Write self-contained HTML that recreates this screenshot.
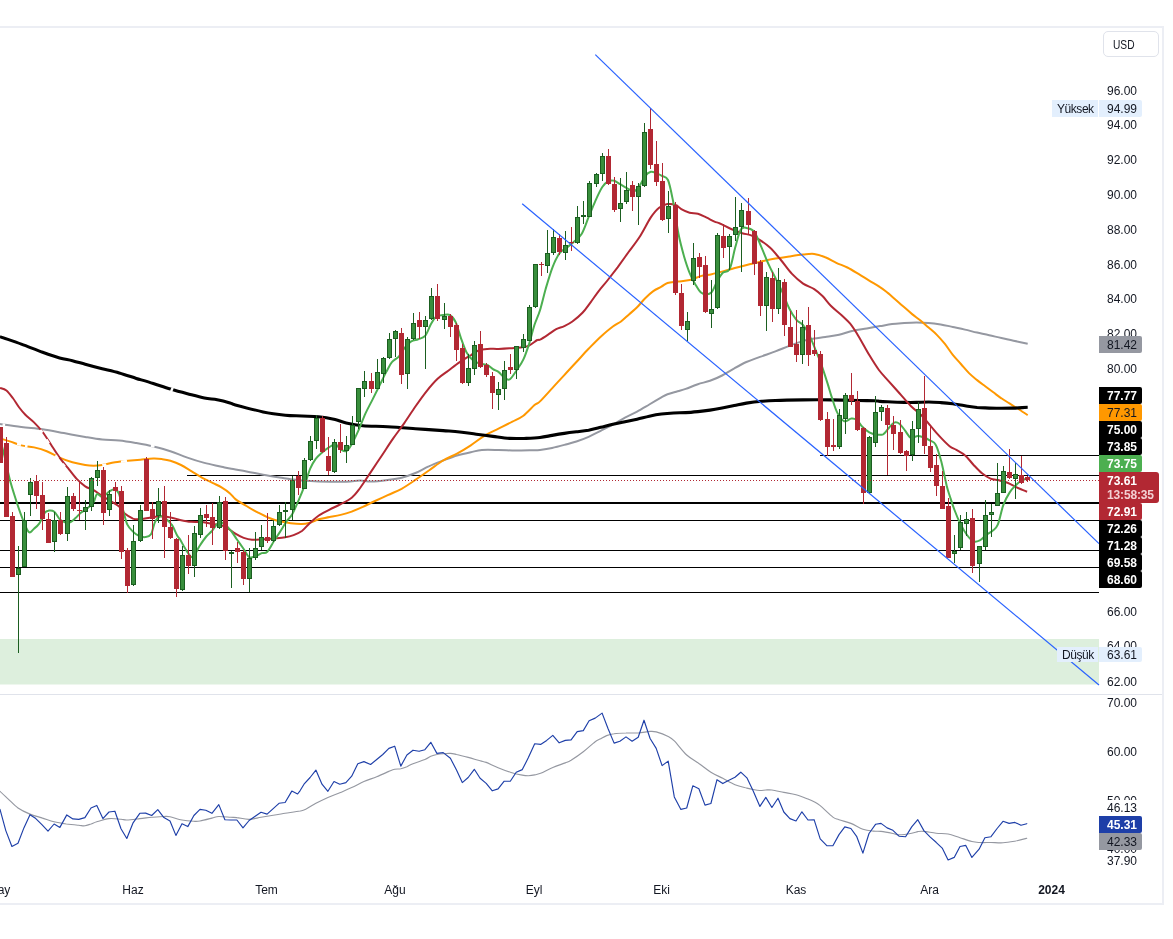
<!DOCTYPE html>
<html lang="tr"><head><meta charset="utf-8"><title>Chart</title>
<style>
html,body{margin:0;padding:0;background:#fff;}
body{width:1173px;height:939px;position:relative;overflow:hidden;font-family:"Liberation Sans",sans-serif;font-size:12px;color:#131722;}
svg{position:absolute;left:0;top:0;}
.t{position:absolute;height:16px;line-height:16px;white-space:nowrap;}
.t.w{background:#fff;}
.tc{width:60px;text-align:center;}
.lab{position:absolute;box-sizing:border-box;padding-left:8px;white-space:nowrap;border-radius:0 2px 2px 0;}
.lab span{position:relative;}
.lab.b{font-weight:bold;}
.lab.n{letter-spacing:-0.45px;border-radius:0;}
.lab.big{line-height:14px;border-radius:0 3px 3px 0;}
.usd{position:absolute;left:1103px;top:30.5px;width:56px;height:26.5px;box-sizing:border-box;border:1px solid #e0e3eb;border-radius:5px;line-height:26px;padding-left:8.5px;}
.usd span{display:inline-block;transform:scaleX(.85);transform-origin:left center;}
</style></head><body>
<svg width="1173" height="939" viewBox="0 0 1173 939">
<rect x="0" y="639" width="1099" height="45.5" fill="#ddefdd"/>
<rect x="820" y="455" width="279" height="1" fill="#000"/>
<rect x="187" y="475" width="912" height="1" fill="#000"/>
<rect x="0" y="502" width="1099" height="2" fill="#000"/>
<rect x="0" y="520" width="1099" height="1" fill="#000"/>
<rect x="0" y="550" width="1099" height="1" fill="#000"/>
<rect x="0" y="567" width="1099" height="1" fill="#000"/>
<rect x="0" y="592" width="1099" height="1" fill="#000"/>
<g fill="none" stroke-linecap="butt" stroke-linejoin="round">
<path d="M0.0 424.1C3.5 424.6 14.2 426.2 21.3 427.1C28.4 428.0 35.5 428.3 42.6 429.3C49.7 430.3 56.8 431.8 63.9 433.1C71.0 434.4 78.8 435.8 85.2 436.9C91.6 438.0 96.5 438.9 102.2 439.5C107.9 440.1 113.6 439.9 119.3 440.5C125.0 441.1 130.6 442.1 136.3 443.1C142.0 444.1 147.6 445.1 153.3 446.5C159.0 447.9 164.7 449.3 170.4 451.2C176.1 453.1 181.7 455.7 187.4 457.6C193.1 459.6 198.7 461.4 204.4 462.9C210.1 464.4 217.3 465.7 221.5 466.7C225.7 467.7 225.7 467.9 229.9 468.6C234.0 469.4 240.9 470.4 246.5 471.4C252.0 472.4 257.6 473.7 263.1 474.7C268.6 475.8 275.1 476.8 279.7 477.5C284.3 478.2 287.1 478.7 290.8 479.2C294.5 479.7 297.3 480.2 301.9 480.6C306.5 480.9 311.1 481.2 318.5 481.4C325.9 481.6 339.3 481.8 346.2 481.7C353.1 481.5 355.9 480.5 360.0 480.5C364.1 480.5 366.5 481.7 371.1 481.6C375.7 481.5 382.6 480.6 387.7 479.9C392.8 479.3 396.9 478.9 401.6 477.7C406.2 476.5 410.8 474.9 415.4 473.0C420.0 471.1 424.6 468.1 429.3 466.1C433.9 464.0 438.5 462.3 443.1 460.5C447.7 458.8 452.3 456.9 457.0 455.5C461.6 454.2 466.6 453.1 470.8 452.2C475.0 451.3 477.3 450.4 481.9 450.0C486.5 449.6 493.0 449.9 498.5 450.0C504.0 450.1 509.6 450.5 515.1 450.6C520.7 450.6 527.6 450.4 531.7 450.3C535.9 450.2 536.6 450.4 540.0 450.0C543.4 449.6 548.1 448.9 552.1 448.0C556.1 447.1 560.2 446.0 564.3 444.9C568.3 443.8 572.3 442.9 576.4 441.5C580.5 440.1 584.5 438.6 588.6 436.8C592.7 435.0 596.7 432.8 600.7 430.8C604.8 428.8 608.9 426.9 612.9 424.7C616.9 422.5 621.0 419.8 625.0 417.6C629.0 415.4 633.1 413.8 637.1 411.6C641.1 409.4 645.2 406.9 649.3 404.5C653.3 402.1 658.4 399.1 661.4 397.4C664.4 395.7 664.8 395.3 667.5 394.3C670.2 393.3 674.6 392.2 677.6 391.3C680.6 390.4 682.3 390.1 685.7 388.9C689.1 387.7 693.9 385.5 697.9 384.2C701.9 382.9 706.0 382.2 710.0 380.8C714.0 379.4 718.1 377.6 722.1 375.5C726.1 373.4 730.2 370.6 734.3 368.4C738.3 366.1 742.1 363.9 746.4 362.0C750.7 360.1 755.2 358.7 760.0 356.9C764.8 355.1 770.5 353.3 775.4 351.4C780.3 349.6 784.6 347.7 789.3 345.9C793.9 344.1 798.9 342.2 803.1 340.9C807.3 339.7 810.5 339.1 814.2 338.4C817.9 337.8 821.1 337.6 825.3 337.0C829.4 336.4 834.5 335.9 839.1 334.8C843.7 333.8 848.3 331.7 853.0 330.7C857.6 329.6 862.3 329.2 866.8 328.4C871.3 327.7 875.8 326.9 880.0 326.1C884.2 325.4 888.1 324.6 892.1 324.1C896.2 323.6 900.2 323.4 904.3 323.1C908.3 322.8 912.4 322.5 916.4 322.5C920.5 322.5 924.5 322.6 928.6 322.9C932.6 323.2 936.6 323.8 940.7 324.5C944.7 325.2 948.8 326.1 952.8 326.9C956.9 327.8 960.9 328.6 965.0 329.6C969.0 330.5 973.1 331.7 977.1 332.6C981.2 333.5 985.2 334.3 989.2 335.2C993.3 336.1 997.3 337.2 1001.4 338.1C1005.4 339.0 1009.1 339.7 1013.5 340.7C1017.9 341.6 1025.3 343.2 1027.7 343.7" stroke="#9598a1" stroke-width="2"/>
<path d="M0.0 438.4C1.8 438.9 7.0 440.4 10.6 441.6C14.1 442.8 17.4 444.4 21.3 445.4C25.2 446.4 29.9 446.4 34.1 447.4C38.4 448.4 42.5 449.5 46.8 451.2C51.0 452.9 55.3 455.8 59.6 457.6C63.9 459.5 68.1 461.1 72.4 462.3C76.7 463.5 81.7 464.4 85.2 465.0C88.8 465.6 90.9 465.7 93.7 465.7C96.5 465.7 98.7 465.6 102.2 465.0C105.8 464.4 110.7 463.0 115.0 462.3C119.3 461.6 123.5 461.2 127.8 460.8C132.1 460.4 136.2 460.1 140.5 459.7C144.8 459.3 149.8 458.7 153.3 458.6C156.9 458.5 159.0 458.7 161.8 459.1C164.7 459.5 167.2 459.8 170.4 460.8C173.6 461.8 177.4 463.2 181.0 465.0C184.6 466.8 188.1 469.3 191.7 471.4C195.2 473.5 198.8 475.9 202.3 477.8C205.9 479.8 209.8 481.5 213.0 483.1C216.2 484.7 218.7 485.7 221.5 487.4C224.3 489.1 227.7 491.4 230.0 493.4C232.3 495.4 232.7 497.0 235.4 499.1C238.1 501.2 242.8 503.8 246.5 506.0C250.2 508.3 253.9 510.5 257.6 512.4C261.3 514.3 264.9 516.2 268.6 517.7C272.3 519.2 276.0 520.4 279.7 521.3C283.4 522.2 287.1 522.8 290.8 523.2C294.5 523.7 298.7 524.1 301.9 524.0C305.1 524.0 307.4 523.4 310.2 522.7C313.0 521.9 315.3 520.3 318.5 519.3C321.7 518.4 325.9 517.9 329.6 517.1C333.3 516.4 337.0 515.8 340.7 514.9C344.4 514.0 348.1 512.9 351.7 511.6C355.4 510.2 359.1 508.5 362.8 506.9C366.5 505.2 369.7 503.5 373.9 501.5C378.0 499.6 383.1 497.3 387.7 495.2C392.3 493.0 396.9 491.3 401.6 488.8C406.2 486.2 410.8 483.0 415.4 479.9C420.0 476.8 424.6 473.5 429.3 470.2C433.9 467.0 438.5 463.3 443.1 460.5C447.7 457.8 452.3 456.1 457.0 453.6C461.6 451.1 466.2 448.3 470.8 445.3C475.4 442.3 480.0 438.4 484.7 435.6C489.3 432.8 493.9 431.0 498.5 428.7C503.1 426.4 508.2 423.9 512.4 421.7C516.5 419.6 519.7 418.4 523.4 415.7C527.1 412.9 531.8 407.5 534.5 405.1C537.3 402.7 537.1 404.2 540.0 401.4C542.9 398.6 548.1 392.7 552.1 388.3C556.1 383.9 560.2 379.5 564.3 375.1C568.3 370.7 572.3 366.4 576.4 362.0C580.5 357.6 584.5 353.0 588.6 348.8C592.7 344.6 596.7 340.4 600.7 336.7C604.8 333.0 609.5 329.0 612.9 326.5C616.3 324.0 618.3 323.5 621.0 321.5C623.7 319.5 626.3 316.8 629.0 314.4C631.7 312.0 634.4 310.0 637.1 307.3C639.8 304.6 642.5 300.9 645.2 298.2C647.9 295.5 650.6 293.0 653.3 291.1C656.0 289.2 659.0 288.1 661.4 286.7C663.8 285.3 664.8 283.9 667.5 283.0C670.2 282.1 673.9 282.1 677.6 281.6C681.3 281.1 686.0 280.9 689.8 280.0C693.6 279.1 697.0 277.1 700.7 276.1C704.3 275.2 708.1 275.0 711.7 274.2C715.4 273.4 719.1 272.4 722.8 271.4C726.5 270.5 729.7 269.5 733.9 268.3C738.0 267.2 743.1 265.9 747.7 264.7C752.3 263.6 756.9 262.4 761.6 261.4C766.2 260.4 770.8 259.5 775.4 258.6C780.0 257.8 784.6 257.1 789.3 256.4C793.9 255.7 798.9 254.9 803.1 254.5C807.3 254.1 810.5 253.5 814.2 253.9C817.9 254.4 821.6 255.8 825.3 257.3C829.0 258.7 832.7 261.1 836.3 262.8C840.0 264.5 843.7 265.7 847.4 267.5C851.1 269.4 854.8 271.7 858.5 273.9C862.2 276.1 866.0 278.6 869.6 280.8C873.2 283.0 876.9 285.0 880.0 287.1C883.1 289.1 885.4 291.0 888.1 293.1C890.8 295.3 893.5 297.9 896.2 300.2C898.9 302.6 901.6 305.0 904.3 307.3C907.0 309.7 909.7 312.2 912.4 314.4C915.1 316.6 917.8 318.3 920.5 320.5C923.2 322.7 925.9 325.2 928.6 327.5C931.3 329.9 933.9 331.9 936.6 334.6C939.3 337.3 942.0 340.4 944.7 343.7C947.4 347.1 950.1 351.5 952.8 354.9C955.5 358.2 958.2 360.9 960.9 364.0C963.6 367.0 966.3 370.4 969.0 373.1C971.7 375.8 974.4 377.9 977.1 380.1C979.8 382.3 982.5 384.2 985.2 386.2C987.9 388.2 990.6 390.3 993.3 392.3C996.0 394.3 998.7 396.5 1001.4 398.3C1004.1 400.2 1006.8 401.7 1009.5 403.4C1012.2 405.1 1014.5 406.5 1017.6 408.5C1020.6 410.4 1026.0 414.0 1027.7 415.1" stroke="#ff9800" stroke-width="2"/>
<path d="M0.0 336.6C3.5 337.9 14.2 341.5 21.3 344.1C28.4 346.7 36.2 349.9 42.6 352.2C49.0 354.5 54.6 356.5 59.6 357.9C64.6 359.3 68.1 359.6 72.4 360.7C76.7 361.8 80.2 362.9 85.2 364.3C90.2 365.7 96.5 367.4 102.2 368.8C107.9 370.2 113.5 371.4 119.2 373.0C124.9 374.6 130.6 376.6 136.3 378.4C142.0 380.1 147.6 381.7 153.3 383.5C159.0 385.3 164.7 387.3 170.4 389.0C176.1 390.7 181.7 392.2 187.4 393.7C193.1 395.2 199.4 397.0 204.4 398.0C209.4 399.0 212.9 398.9 217.2 399.7C221.5 400.5 227.0 402.0 230.0 402.9C233.0 403.8 229.9 403.4 235.4 404.9C240.9 406.4 254.8 410.1 263.1 411.9C271.4 413.6 278.8 414.5 285.3 415.2C291.7 415.9 296.3 415.7 301.9 416.0C307.4 416.3 313.0 416.2 318.5 416.8C324.0 417.4 330.5 418.6 335.1 419.6C339.7 420.6 341.6 421.9 346.2 422.9C350.8 424.0 355.9 425.1 362.8 425.7C369.7 426.3 378.9 426.2 387.7 426.7C396.5 427.2 406.2 428.0 415.4 428.7C424.6 429.3 435.7 430.1 443.1 430.6C450.5 431.2 454.2 431.4 459.7 432.0C465.3 432.6 470.8 433.5 476.3 434.2C481.9 434.9 487.4 435.7 493.0 436.4C498.5 437.1 504.0 438.0 509.6 438.4C515.1 438.7 521.1 438.5 526.2 438.4C531.3 438.2 535.7 438.0 540.0 437.5C544.3 437.0 548.1 436.1 552.1 435.4C556.1 434.7 560.2 434.0 564.3 433.4C568.3 432.8 572.3 432.3 576.4 431.8C580.5 431.3 584.5 430.9 588.6 430.2C592.7 429.4 596.7 428.3 600.7 427.3C604.8 426.3 608.9 425.2 612.9 424.3C616.9 423.4 621.0 422.6 625.0 421.7C629.0 420.8 633.1 420.1 637.1 419.2C641.1 418.3 645.2 417.1 649.3 416.2C653.3 415.3 657.3 414.5 661.4 414.0C665.5 413.5 669.5 413.2 673.6 413.0C677.7 412.8 681.7 412.8 685.7 412.6C689.8 412.4 693.9 412.0 697.9 411.6C701.9 411.2 706.0 410.7 710.0 410.1C714.0 409.5 718.1 408.7 722.1 407.9C726.1 407.1 730.2 406.3 734.3 405.5C738.3 404.7 741.9 403.8 746.4 403.1C750.9 402.4 756.7 401.7 761.6 401.3C766.4 400.9 768.5 400.7 775.4 400.5C782.3 400.2 793.9 400.0 803.1 399.9C812.3 399.8 821.6 399.8 830.8 399.9C840.0 400.0 851.1 400.3 858.5 400.5C865.9 400.6 871.5 400.6 875.1 400.7C878.7 400.9 877.2 401.2 880.0 401.4C882.8 401.6 888.1 401.8 892.1 402.0C896.2 402.2 900.2 402.3 904.3 402.4C908.3 402.5 912.4 402.5 916.4 402.4C920.5 402.3 924.5 402.0 928.6 402.0C932.6 402.0 936.6 402.3 940.7 402.6C944.7 402.9 948.8 403.3 952.8 403.8C956.9 404.4 960.9 405.2 965.0 405.8C969.0 406.4 973.1 407.1 977.1 407.5C981.2 407.8 985.2 407.9 989.2 408.1C993.3 408.2 997.3 408.3 1001.4 408.3C1005.4 408.3 1009.1 408.2 1013.5 408.1C1017.9 407.9 1025.3 407.4 1027.7 407.3" stroke="#000" stroke-width="3.1"/>
<path d="M0.0 388.0C1.1 388.4 4.3 388.8 6.4 390.5C8.5 392.2 10.7 395.2 12.8 398.0C14.9 400.8 17.1 404.7 19.2 407.5C21.3 410.3 23.1 412.5 25.6 415.0C28.1 417.5 31.2 419.6 34.0 422.4C36.8 425.2 39.8 428.3 42.6 432.0C45.5 435.7 48.3 440.5 51.1 444.8C53.9 449.1 56.8 453.7 59.6 457.6C62.4 461.5 65.2 464.6 68.1 468.2C70.9 471.8 73.8 475.9 76.7 478.9C79.6 481.9 82.4 484.4 85.2 486.3C88.0 488.2 90.9 488.6 93.7 490.2C96.5 491.8 99.3 494.2 102.2 496.0C105.1 497.8 108.0 499.3 110.8 501.1C113.6 502.9 116.8 504.6 119.1 506.6C121.4 508.7 122.3 511.6 124.7 513.6C127.0 515.6 130.7 517.6 133.0 518.6C135.3 519.5 135.7 519.3 138.5 519.1C141.3 519.0 145.9 518.2 149.6 517.7C153.3 517.3 157.0 516.3 160.7 516.3C164.4 516.3 168.5 517.1 171.7 517.7C175.0 518.3 176.8 519.2 180.0 519.9C183.2 520.6 187.4 521.5 191.1 521.8C194.8 522.2 198.5 521.7 202.2 522.1C205.9 522.5 209.5 523.4 213.2 524.0C216.9 524.7 220.6 524.6 224.3 526.3C228.0 527.9 232.2 531.8 235.4 533.7C238.6 535.7 240.9 536.9 243.7 537.9C246.5 538.9 248.8 539.6 252.0 539.8C255.3 540.1 259.4 539.5 263.1 539.3C266.8 539.0 270.5 538.8 274.2 538.4C277.9 538.1 282.0 537.9 285.3 537.3C288.5 536.8 290.8 536.2 293.6 535.1C296.3 534.1 299.1 533.0 301.9 531.0C304.7 528.9 307.4 525.2 310.2 522.7C313.0 520.1 315.3 517.9 318.5 515.7C321.7 513.6 325.9 511.6 329.6 509.6C333.3 507.7 337.0 506.1 340.7 504.1C344.4 502.1 348.5 500.4 351.7 497.7C355.0 495.1 356.8 492.4 360.1 488.0C363.3 483.7 367.4 477.1 371.1 471.6C374.8 466.1 378.5 460.5 382.2 455.0C385.9 449.4 389.5 443.7 393.2 438.4C396.9 433.1 400.6 428.4 404.3 423.1C408.0 417.8 411.7 411.8 415.4 406.5C419.1 401.2 422.8 395.9 426.5 391.3C430.2 386.7 433.9 382.3 437.6 378.8C441.3 375.3 444.9 373.3 448.6 370.5C452.3 367.7 456.0 364.7 459.7 362.2C463.4 359.6 467.6 357.2 470.8 355.3C474.0 353.3 476.3 351.3 479.1 350.3C481.9 349.2 484.2 349.1 487.4 348.9C490.7 348.7 494.8 349.0 498.5 348.9C502.2 348.8 505.9 348.6 509.6 348.3C513.3 348.1 517.4 348.0 520.7 347.5C523.9 347.0 526.2 346.8 529.0 345.6C531.7 344.3 535.4 341.0 537.3 340.0C539.1 339.0 538.2 340.6 540.0 339.7C541.8 338.8 545.4 336.4 548.1 334.6C550.8 332.9 553.5 330.6 556.2 329.2C558.9 327.8 561.6 327.4 564.3 326.1C567.0 324.8 569.4 323.7 572.4 321.5C575.4 319.3 579.5 316.0 582.5 312.8C585.5 309.6 587.9 305.9 590.6 302.3C593.3 298.7 595.8 294.8 598.7 291.1C601.6 287.4 604.7 284.0 607.8 280.0C610.9 276.0 614.1 271.9 617.6 267.3C621.0 262.6 624.9 257.1 628.6 252.0C632.3 247.0 636.0 242.6 639.7 236.8C643.4 231.0 647.6 222.3 650.8 217.4C654.0 212.6 656.3 209.9 659.1 207.7C661.9 205.5 664.7 204.6 667.4 204.1C670.2 203.7 673.4 204.1 675.7 205.0C678.0 205.8 679.0 207.8 681.3 209.1C683.6 210.4 686.8 211.9 689.6 212.7C692.4 213.5 695.1 213.0 697.9 213.8C700.7 214.6 703.4 216.1 706.2 217.4C709.0 218.7 712.2 220.6 714.5 221.6C716.8 222.6 717.2 222.2 720.0 223.5C722.8 224.7 727.4 227.4 731.1 229.0C734.8 230.6 738.9 232.1 742.2 233.2C745.4 234.2 747.7 234.1 750.5 235.1C753.2 236.1 755.5 237.2 758.8 239.3C762.0 241.3 766.2 244.1 769.9 247.6C773.6 251.0 777.2 255.6 780.9 260.0C784.6 264.4 788.3 270.0 792.0 273.9C795.7 277.8 799.4 281.0 803.1 283.6C806.8 286.1 811.0 287.0 814.2 289.1C817.4 291.2 819.7 293.3 822.5 296.0C825.3 298.8 827.6 302.5 830.8 305.7C834.0 309.0 838.7 312.4 841.9 315.4C845.1 318.4 847.4 320.3 850.2 323.7C853.0 327.2 855.3 330.9 858.5 336.2C861.7 341.5 866.2 350.0 869.6 355.6C873.0 361.2 875.8 365.8 878.9 370.0C882.1 374.2 885.2 377.2 888.6 381.1C892.1 385.0 896.0 389.4 899.7 393.5C903.4 397.7 907.1 402.3 910.8 406.0C914.5 409.7 918.7 412.5 921.9 415.7C925.1 418.9 927.4 422.2 930.2 425.4C933.0 428.6 935.3 431.6 938.5 435.1C941.7 438.6 946.6 443.7 949.6 446.2C952.6 448.6 953.8 448.3 956.4 449.8C958.9 451.3 962.1 452.7 964.9 455.2C967.8 457.6 970.6 461.7 973.4 464.7C976.3 467.8 979.1 471.0 982.0 473.3C984.8 475.6 987.6 477.4 990.5 478.6C993.3 479.8 996.2 479.6 999.0 480.3C1001.8 481.0 1004.7 481.7 1007.5 482.8C1010.4 484.0 1013.6 485.9 1016.0 487.1C1018.5 488.3 1020.6 489.1 1022.4 489.9C1024.3 490.7 1026.3 491.5 1027.1 491.8" stroke="#b22833" stroke-width="2"/>
<path d="M1.0 442.5C1.5 444.6 2.9 449.3 4.3 455.3C5.7 461.3 7.7 471.2 9.6 478.7C11.5 486.1 13.9 493.4 16.0 500.0C18.1 506.6 20.2 512.8 22.3 518.1C24.4 523.4 26.8 530.1 28.7 531.9C30.6 533.7 32.2 530.1 34.0 528.7C35.8 527.3 37.6 526.0 39.4 523.4C41.2 520.8 43.1 514.9 44.7 512.8C46.3 510.7 47.3 510.8 48.9 510.6C50.5 510.4 52.5 510.3 54.3 511.7C56.1 513.1 57.8 517.3 59.6 519.1C61.4 520.9 63.1 521.8 64.9 522.3C66.7 522.8 68.4 523.0 70.2 522.3C72.0 521.6 73.7 519.7 75.5 518.1C77.3 516.5 79.0 514.4 80.9 512.8C82.9 511.2 85.1 510.3 87.2 508.5C89.3 506.7 92.0 504.5 93.6 502.1C95.2 499.7 95.5 495.0 97.0 494.2C98.4 493.3 100.4 497.4 102.5 497.0C104.6 496.5 107.3 492.7 109.4 491.4C111.5 490.1 113.3 488.7 115.0 489.2C116.6 489.7 117.7 490.6 119.1 494.2C120.5 497.8 121.9 505.7 123.3 510.8C124.7 515.9 125.8 521.2 127.4 524.7C129.0 528.1 131.1 529.7 133.0 531.6C134.8 533.4 136.4 534.8 138.5 535.7C140.6 536.7 143.4 537.3 145.4 537.1C147.5 536.9 149.4 536.9 151.0 534.3C152.6 531.8 153.5 524.9 155.1 521.9C156.7 518.9 158.8 516.8 160.7 516.3C162.5 515.9 164.4 517.7 166.2 519.1C168.1 520.5 169.9 521.9 171.7 524.7C173.6 527.4 175.9 533.3 177.3 535.7C178.7 538.2 178.6 537.1 180.0 539.3C181.4 541.5 183.5 546.0 185.5 549.0C187.6 552.0 190.2 557.7 192.5 557.3C194.8 556.8 197.1 549.7 199.4 546.2C201.7 542.7 204.2 539.0 206.3 536.5C208.4 534.0 209.8 533.3 211.9 531.0C213.9 528.7 216.7 523.8 218.8 522.7C220.9 521.5 222.2 522.7 224.3 524.0C226.4 525.4 229.2 528.4 231.2 531.0C233.3 533.5 234.7 536.3 236.8 539.3C238.9 542.3 241.6 546.0 243.7 549.0C245.8 552.0 247.2 556.1 249.3 557.3C251.3 558.4 254.1 556.6 256.2 555.9C258.3 555.2 259.9 553.8 261.7 553.1C263.6 552.4 265.2 553.8 267.3 551.7C269.3 549.7 272.1 543.9 274.2 540.7C276.3 537.4 277.6 535.6 279.7 532.4C281.8 529.1 284.6 524.3 286.6 521.3C288.7 518.3 290.1 518.0 292.2 514.3C294.3 510.7 297.0 504.0 299.1 499.1C301.2 494.3 302.8 490.3 304.7 485.3C306.5 480.2 308.3 473.0 310.2 468.6C312.0 464.3 313.7 461.7 315.7 458.9C317.8 456.2 320.6 453.9 322.7 452.0C324.7 450.2 326.1 449.2 328.2 447.9C330.3 446.6 333.0 444.0 335.1 444.3C337.2 444.5 338.8 448.1 340.7 449.3C342.5 450.4 344.4 452.0 346.2 451.2C348.1 450.4 349.7 447.8 351.7 444.3C353.8 440.7 356.4 435.0 358.7 429.9C361.0 424.7 363.2 418.5 365.5 413.4C367.8 408.4 370.2 404.2 372.5 399.6C374.8 395.0 377.1 390.4 379.4 385.7C381.7 381.1 384.2 375.8 386.3 371.9C388.4 368.0 389.8 364.7 391.9 362.2C393.9 359.6 396.7 359.0 398.8 356.6C400.9 354.3 402.2 350.9 404.3 348.3C406.4 345.8 408.9 342.9 411.2 341.4C413.6 339.9 415.9 340.1 418.2 339.2C420.5 338.3 423.0 338.3 425.1 335.9C427.2 333.5 428.8 328.0 430.6 324.8C432.5 321.6 434.1 318.1 436.2 316.5C438.3 314.9 440.8 315.3 443.1 315.1C445.4 314.9 448.0 313.9 450.0 315.1C452.1 316.3 453.7 318.1 455.6 322.0C457.4 325.9 459.3 333.6 461.1 338.6C463.0 343.7 464.6 348.8 466.6 352.5C468.7 356.2 471.3 359.0 473.6 360.8C475.9 362.7 478.2 362.9 480.5 363.6C482.8 364.3 485.3 364.0 487.4 365.0C489.5 365.9 491.1 368.0 493.0 369.1C494.8 370.3 496.7 370.5 498.5 371.9C500.4 373.3 502.2 376.2 504.0 377.4C505.9 378.7 507.5 380.5 509.6 379.4C511.7 378.2 514.2 373.8 516.5 370.5C518.8 367.2 521.4 363.8 523.4 359.4C525.5 355.0 527.1 350.0 529.0 344.2C530.8 338.4 532.7 330.5 534.5 324.8C536.4 319.1 538.2 316.1 540.0 310.2C541.8 304.3 543.5 296.6 545.5 289.4C547.6 282.3 550.2 273.3 552.5 267.3C554.8 261.3 557.1 256.7 559.4 253.4C561.7 250.2 564.0 249.7 566.3 247.9C568.6 246.0 570.7 244.7 573.2 242.4C575.8 240.0 579.0 238.2 581.6 234.0C584.1 229.9 586.2 223.0 588.5 217.4C590.8 211.9 593.1 205.9 595.4 200.8C597.7 195.7 600.2 190.2 602.3 187.0C604.4 183.7 606.0 182.5 607.9 181.4C609.7 180.4 611.3 180.1 613.4 180.6C615.5 181.0 618.0 182.9 620.3 184.2C622.6 185.5 624.9 187.2 627.3 188.3C629.6 189.5 632.1 191.6 634.2 191.1C636.3 190.6 637.9 188.1 639.7 185.6C641.6 183.0 643.4 178.2 645.3 175.9C647.1 173.6 649.0 172.2 650.8 171.7C652.7 171.3 654.5 172.4 656.3 173.1C658.2 173.8 659.9 174.7 661.9 175.9C663.8 177.0 666.1 175.9 668.0 180.0C669.8 184.2 671.2 191.8 673.0 200.8C674.7 209.8 676.7 224.8 678.5 234.0C680.4 243.3 682.2 249.7 684.0 256.2C685.9 262.7 687.7 268.2 689.6 272.8C691.4 277.4 693.3 280.7 695.1 283.9C697.0 287.1 698.8 290.5 700.7 292.2C702.5 294.0 704.4 294.4 706.2 294.4C708.1 294.4 709.9 294.4 711.7 292.2C713.6 290.0 715.4 284.4 717.3 281.1C719.1 277.9 720.7 274.9 722.8 272.8C724.9 270.7 727.7 272.9 729.8 268.7C731.8 264.5 733.4 254.1 735.2 247.6C737.1 241.0 738.7 232.8 740.8 229.6C742.9 226.3 745.4 227.7 747.7 228.2C750.0 228.6 752.3 229.1 754.6 232.3C756.9 235.6 759.2 242.3 761.6 247.6C763.9 252.9 766.2 259.1 768.5 264.2C770.8 269.3 773.1 273.4 775.4 278.0C777.7 282.7 780.0 286.8 782.3 291.9C784.6 297.0 786.9 303.9 789.3 308.5C791.6 313.1 793.9 316.8 796.2 319.6C798.5 322.4 801.0 322.8 803.1 325.1C805.2 327.4 806.6 329.3 808.6 333.4C810.7 337.6 813.5 345.0 815.6 350.1C817.6 355.1 819.1 358.3 821.1 363.9C823.1 369.5 825.9 378.2 827.7 383.9C829.5 389.5 830.2 392.9 831.9 397.7C833.5 402.5 835.3 409.0 837.4 412.9C839.5 416.9 842.0 420.3 844.3 421.2C846.6 422.2 849.2 418.7 851.2 418.5C853.3 418.2 854.9 418.5 856.8 419.9C858.6 421.2 860.2 424.7 862.3 426.8C864.4 428.9 866.9 431.0 869.3 432.3C871.6 433.6 873.9 434.2 876.2 434.5C878.5 434.9 881.0 435.3 883.1 434.3C885.2 433.2 886.8 430.1 888.6 428.2C890.5 426.2 892.3 423.3 894.2 422.6C896.0 421.9 897.9 422.6 899.7 424.0C901.6 425.4 903.4 428.6 905.3 430.9C907.1 433.3 908.7 437.0 910.8 437.9C912.9 438.7 915.7 436.0 917.7 435.9C919.8 435.8 921.2 436.5 923.3 437.3C925.3 438.1 928.1 439.4 930.2 440.6C932.3 441.9 933.9 441.3 935.7 444.8C937.6 448.3 939.4 454.5 941.3 461.4C943.1 468.3 945.4 480.5 946.8 486.3C948.3 492.2 948.8 492.8 950.0 496.7C951.2 500.5 952.5 504.9 954.3 509.5C956.0 514.1 958.5 520.1 960.7 524.4C962.8 528.6 964.9 532.2 967.0 535.0C969.2 537.9 971.3 540.5 973.4 541.4C975.6 542.3 977.7 541.4 979.8 540.4C982.0 539.3 984.1 536.6 986.2 535.0C988.3 533.4 990.7 532.6 992.6 530.8C994.6 529.0 996.2 528.6 997.9 524.4C999.7 520.1 1001.3 510.5 1003.3 505.2C1005.2 499.9 1007.5 495.8 1009.7 492.4C1011.8 489.1 1014.1 486.9 1016.0 485.0C1018.0 483.0 1019.5 481.8 1021.4 480.7C1023.2 479.7 1026.2 478.9 1027.1 478.6" stroke="#4caf50" stroke-width="2"/>
</g>
<g stroke="#fff" stroke-width="2.6" fill="none">
<line x1="2.6" y1="424.6" x2="5.1" y2="425"/>
<line x1="150.9" y1="445.8" x2="154.5" y2="446.6"/>
<line x1="17" y1="443.9" x2="21" y2="444.8"/>
<line x1="25" y1="446" x2="27.5" y2="446.4"/>
<line x1="102.3" y1="465.3" x2="106.3" y2="464.6"/>
<line x1="121" y1="461.8" x2="127" y2="461"/>
<line x1="40.2" y1="430" x2="42.4" y2="432.6"/>
<line x1="46.3" y1="439.5" x2="48.8" y2="443.5"/>
<line x1="55.6" y1="455.3" x2="58" y2="459"/>
<line x1="62.4" y1="464" x2="64.8" y2="466.6"/>
<line x1="170.8" y1="389" x2="173" y2="390" stroke-width="3.6"/>
</g>
<g fill="#b22833"><rect x="0" y="427" width="1" height="36"/><rect x="6" y="437" width="1" height="80"/><rect x="12" y="512" width="1" height="65"/><rect x="36" y="475" width="1" height="34"/><rect x="42" y="482" width="1" height="48"/><rect x="48" y="513" width="1" height="30"/><rect x="60" y="512" width="1" height="23"/><rect x="73" y="493" width="1" height="18"/><rect x="79" y="482" width="1" height="38"/><rect x="103" y="467" width="1" height="58"/><rect x="115" y="482" width="1" height="23"/><rect x="121" y="486" width="1" height="73"/><rect x="127" y="548" width="1" height="45"/><rect x="146" y="457" width="1" height="54"/><rect x="152" y="502" width="1" height="37"/><rect x="164" y="486" width="1" height="72"/><rect x="170" y="512" width="1" height="27"/><rect x="176" y="538" width="1" height="59"/><rect x="188" y="535" width="1" height="39"/><rect x="206" y="505" width="1" height="22"/><rect x="212" y="503" width="1" height="42"/><rect x="225" y="497" width="1" height="63"/><rect x="237" y="542" width="1" height="21"/><rect x="243" y="550" width="1" height="35"/><rect x="267" y="513" width="1" height="30"/><rect x="298" y="471" width="1" height="24"/><rect x="322" y="416" width="1" height="37"/><rect x="328" y="437" width="1" height="38"/><rect x="340" y="424" width="1" height="29"/><rect x="371" y="373" width="1" height="20"/><rect x="401" y="328" width="1" height="56"/><rect x="419" y="312" width="1" height="27"/><rect x="437" y="284" width="1" height="37"/><rect x="450" y="314" width="1" height="23"/><rect x="456" y="323" width="1" height="38"/><rect x="462" y="344" width="1" height="40"/><rect x="480" y="331" width="1" height="37"/><rect x="486" y="363" width="1" height="14"/><rect x="492" y="372" width="1" height="37"/><rect x="510" y="354" width="1" height="20"/><rect x="541" y="262" width="1" height="14"/><rect x="559" y="234" width="1" height="21"/><rect x="571" y="227" width="1" height="24"/><rect x="608" y="149" width="1" height="36"/><rect x="614" y="177" width="1" height="35"/><rect x="632" y="181" width="1" height="30"/><rect x="650" y="108" width="1" height="61"/><rect x="656" y="141" width="1" height="45"/><rect x="662" y="163" width="1" height="58"/><rect x="675" y="202" width="1" height="93"/><rect x="681" y="284" width="1" height="46"/><rect x="699" y="253" width="1" height="25"/><rect x="705" y="256" width="1" height="57"/><rect x="723" y="224" width="1" height="34"/><rect x="748" y="198" width="1" height="37"/><rect x="754" y="230" width="1" height="45"/><rect x="760" y="260" width="1" height="56"/><rect x="772" y="272" width="1" height="50"/><rect x="784" y="279" width="1" height="57"/><rect x="790" y="311" width="1" height="36"/><rect x="796" y="310" width="1" height="52"/><rect x="808" y="307" width="1" height="59"/><rect x="814" y="330" width="1" height="26"/><rect x="820" y="351" width="1" height="70"/><rect x="827" y="412" width="1" height="44"/><rect x="833" y="419" width="1" height="32"/><rect x="851" y="373" width="1" height="32"/><rect x="857" y="391" width="1" height="40"/><rect x="863" y="427" width="1" height="77"/><rect x="887" y="405" width="1" height="70"/><rect x="893" y="416" width="1" height="34"/><rect x="900" y="420" width="1" height="34"/><rect x="906" y="450" width="1" height="21"/><rect x="924" y="376" width="1" height="78"/><rect x="930" y="425" width="1" height="47"/><rect x="936" y="454" width="1" height="42"/><rect x="942" y="471" width="1" height="38"/><rect x="948" y="498" width="1" height="60"/><rect x="972" y="509" width="1" height="64"/><rect x="1009" y="449" width="1" height="30"/><rect x="1021" y="456" width="1" height="28"/><rect x="1027" y="476" width="1" height="6"/><rect x="-2" y="427" width="5" height="36"/><rect x="4" y="443" width="5" height="74"/><rect x="10" y="516" width="5" height="61"/><rect x="34" y="481" width="5" height="15"/><rect x="40" y="495" width="5" height="24"/><rect x="46" y="519" width="5" height="24"/><rect x="58" y="520" width="5" height="14"/><rect x="71" y="496" width="5" height="13"/><rect x="77" y="510" width="5" height="1"/><rect x="101" y="470" width="5" height="43"/><rect x="113" y="487" width="5" height="4"/><rect x="119" y="491" width="5" height="61"/><rect x="125" y="550" width="5" height="36"/><rect x="144" y="459" width="5" height="52"/><rect x="150" y="509" width="5" height="10"/><rect x="162" y="501" width="5" height="26"/><rect x="168" y="527" width="5" height="11"/><rect x="174" y="539" width="5" height="50"/><rect x="186" y="555" width="5" height="11"/><rect x="204" y="514" width="5" height="4"/><rect x="210" y="517" width="5" height="11"/><rect x="223" y="501" width="5" height="50"/><rect x="235" y="548" width="5" height="4"/><rect x="241" y="552" width="5" height="27"/><rect x="265" y="537" width="5" height="4"/><rect x="296" y="476" width="5" height="12"/><rect x="320" y="418" width="5" height="34"/><rect x="326" y="456" width="5" height="15"/><rect x="338" y="442" width="5" height="8"/><rect x="369" y="381" width="5" height="8"/><rect x="399" y="333" width="5" height="42"/><rect x="417" y="320" width="5" height="7"/><rect x="435" y="296" width="5" height="23"/><rect x="448" y="316" width="5" height="11"/><rect x="454" y="325" width="5" height="25"/><rect x="460" y="348" width="5" height="35"/><rect x="478" y="344" width="5" height="23"/><rect x="484" y="365" width="5" height="10"/><rect x="490" y="376" width="5" height="17"/><rect x="508" y="367" width="5" height="3"/><rect x="539" y="264" width="5" height="1"/><rect x="557" y="238" width="5" height="14"/><rect x="569" y="242" width="5" height="1"/><rect x="606" y="156" width="5" height="28"/><rect x="612" y="184" width="5" height="26"/><rect x="630" y="185" width="5" height="12"/><rect x="648" y="129" width="5" height="36"/><rect x="654" y="164" width="5" height="18"/><rect x="660" y="181" width="5" height="39"/><rect x="673" y="205" width="5" height="88"/><rect x="679" y="293" width="5" height="33"/><rect x="697" y="257" width="5" height="10"/><rect x="703" y="265" width="5" height="47"/><rect x="721" y="236" width="5" height="12"/><rect x="746" y="211" width="5" height="14"/><rect x="752" y="231" width="5" height="33"/><rect x="758" y="262" width="5" height="44"/><rect x="770" y="278" width="5" height="31"/><rect x="782" y="282" width="5" height="43"/><rect x="788" y="327" width="5" height="20"/><rect x="794" y="344" width="5" height="11"/><rect x="806" y="325" width="5" height="30"/><rect x="812" y="350" width="5" height="4"/><rect x="818" y="354" width="5" height="66"/><rect x="825" y="419" width="5" height="28"/><rect x="831" y="445" width="5" height="2"/><rect x="849" y="395" width="5" height="6"/><rect x="855" y="401" width="5" height="29"/><rect x="861" y="428" width="5" height="65"/><rect x="885" y="408" width="5" height="17"/><rect x="891" y="425" width="5" height="9"/><rect x="898" y="432" width="5" height="21"/><rect x="904" y="451" width="5" height="5"/><rect x="922" y="408" width="5" height="38"/><rect x="928" y="446" width="5" height="22"/><rect x="934" y="465" width="5" height="21"/><rect x="940" y="486" width="5" height="23"/><rect x="946" y="506" width="5" height="52"/><rect x="970" y="518" width="5" height="48"/><rect x="1007" y="472" width="5" height="6"/><rect x="1019" y="475" width="5" height="8"/><rect x="1025" y="477" width="5" height="3"/></g>
<g fill="#1b5e20"><rect x="18" y="546" width="1" height="107"/><rect x="24" y="512" width="1" height="55"/><rect x="30" y="478" width="1" height="38"/><rect x="54" y="512" width="1" height="40"/><rect x="67" y="487" width="1" height="54"/><rect x="85" y="500" width="1" height="30"/><rect x="91" y="477" width="1" height="34"/><rect x="97" y="461" width="1" height="25"/><rect x="109" y="490" width="1" height="26"/><rect x="133" y="525" width="1" height="61"/><rect x="140" y="505" width="1" height="37"/><rect x="158" y="488" width="1" height="35"/><rect x="182" y="546" width="1" height="45"/><rect x="194" y="526" width="1" height="51"/><rect x="200" y="508" width="1" height="30"/><rect x="219" y="496" width="1" height="33"/><rect x="231" y="551" width="1" height="37"/><rect x="249" y="548" width="1" height="44"/><rect x="255" y="532" width="1" height="28"/><rect x="261" y="525" width="1" height="25"/><rect x="273" y="520" width="1" height="22"/><rect x="279" y="505" width="1" height="21"/><rect x="285" y="502" width="1" height="36"/><rect x="292" y="476" width="1" height="44"/><rect x="304" y="458" width="1" height="31"/><rect x="310" y="436" width="1" height="25"/><rect x="316" y="415" width="1" height="34"/><rect x="334" y="439" width="1" height="34"/><rect x="346" y="436" width="1" height="27"/><rect x="352" y="416" width="1" height="29"/><rect x="358" y="388" width="1" height="41"/><rect x="364" y="371" width="1" height="26"/><rect x="377" y="359" width="1" height="30"/><rect x="383" y="357" width="1" height="26"/><rect x="389" y="333" width="1" height="26"/><rect x="395" y="330" width="1" height="27"/><rect x="407" y="337" width="1" height="52"/><rect x="413" y="313" width="1" height="27"/><rect x="425" y="316" width="1" height="53"/><rect x="431" y="288" width="1" height="32"/><rect x="444" y="303" width="1" height="26"/><rect x="468" y="354" width="1" height="32"/><rect x="474" y="341" width="1" height="34"/><rect x="498" y="382" width="1" height="28"/><rect x="504" y="361" width="1" height="39"/><rect x="516" y="346" width="1" height="33"/><rect x="523" y="334" width="1" height="18"/><rect x="529" y="305" width="1" height="36"/><rect x="535" y="264" width="1" height="44"/><rect x="547" y="230" width="1" height="43"/><rect x="553" y="229" width="1" height="26"/><rect x="565" y="231" width="1" height="29"/><rect x="577" y="206" width="1" height="38"/><rect x="583" y="201" width="1" height="23"/><rect x="589" y="181" width="1" height="36"/><rect x="596" y="173" width="1" height="14"/><rect x="602" y="153" width="1" height="28"/><rect x="620" y="178" width="1" height="44"/><rect x="626" y="172" width="1" height="32"/><rect x="638" y="183" width="1" height="42"/><rect x="644" y="123" width="1" height="64"/><rect x="668" y="191" width="1" height="42"/><rect x="687" y="312" width="1" height="29"/><rect x="693" y="243" width="1" height="42"/><rect x="711" y="280" width="1" height="48"/><rect x="717" y="233" width="1" height="76"/><rect x="729" y="234" width="1" height="36"/><rect x="735" y="197" width="1" height="44"/><rect x="741" y="203" width="1" height="69"/><rect x="766" y="272" width="1" height="59"/><rect x="778" y="268" width="1" height="46"/><rect x="802" y="320" width="1" height="44"/><rect x="839" y="409" width="1" height="40"/><rect x="845" y="393" width="1" height="41"/><rect x="869" y="436" width="1" height="58"/><rect x="875" y="396" width="1" height="51"/><rect x="881" y="405" width="1" height="16"/><rect x="912" y="421" width="1" height="40"/><rect x="918" y="402" width="1" height="41"/><rect x="954" y="535" width="1" height="28"/><rect x="960" y="515" width="1" height="35"/><rect x="966" y="512" width="1" height="24"/><rect x="979" y="546" width="1" height="36"/><rect x="985" y="500" width="1" height="50"/><rect x="991" y="504" width="1" height="33"/><rect x="997" y="463" width="1" height="43"/><rect x="1003" y="466" width="1" height="27"/><rect x="1015" y="463" width="1" height="36"/></g>
<g fill="#388e3c" stroke="#1b5e20" stroke-width="1"><rect x="16.5" y="568.5" width="4" height="6"/><rect x="22.5" y="520.5" width="4" height="46"/><rect x="28.5" y="482.5" width="4" height="12"/><rect x="52.5" y="520.5" width="4" height="21"/><rect x="65.5" y="496.5" width="4" height="37"/><rect x="83.5" y="507.5" width="4" height="4"/><rect x="89.5" y="478.5" width="4" height="28"/><rect x="95.5" y="470.5" width="4" height="7"/><rect x="107.5" y="494.5" width="4" height="15"/><rect x="131.5" y="541.5" width="4" height="43"/><rect x="138.5" y="510.5" width="4" height="30"/><rect x="156.5" y="501.5" width="4" height="14"/><rect x="180.5" y="555.5" width="4" height="34"/><rect x="192.5" y="533.5" width="4" height="32"/><rect x="198.5" y="515.5" width="4" height="19"/><rect x="217.5" y="502.5" width="4" height="25"/><rect x="229.5" y="552.5" width="4" height="1"/><rect x="247.5" y="558.5" width="4" height="20"/><rect x="253.5" y="548.5" width="4" height="9"/><rect x="259.5" y="537.5" width="4" height="9"/><rect x="271.5" y="526.5" width="4" height="14"/><rect x="277.5" y="512.5" width="4" height="12"/><rect x="283.5" y="510.5" width="4" height="1"/><rect x="290.5" y="480.5" width="4" height="29"/><rect x="302.5" y="460.5" width="4" height="28"/><rect x="308.5" y="441.5" width="4" height="18"/><rect x="314.5" y="418.5" width="4" height="22"/><rect x="332.5" y="442.5" width="4" height="29"/><rect x="344.5" y="445.5" width="4" height="5"/><rect x="350.5" y="425.5" width="4" height="19"/><rect x="356.5" y="388.5" width="4" height="33"/><rect x="362.5" y="381.5" width="4" height="7"/><rect x="375.5" y="372.5" width="4" height="16"/><rect x="381.5" y="358.5" width="4" height="15"/><rect x="387.5" y="339.5" width="4" height="18"/><rect x="393.5" y="331.5" width="4" height="7"/><rect x="405.5" y="339.5" width="4" height="34"/><rect x="411.5" y="323.5" width="4" height="15"/><rect x="423.5" y="320.5" width="4" height="6"/><rect x="429.5" y="296.5" width="4" height="22"/><rect x="442.5" y="316.5" width="4" height="3"/><rect x="466.5" y="368.5" width="4" height="14"/><rect x="472.5" y="345.5" width="4" height="23"/><rect x="496.5" y="389.5" width="4" height="5"/><rect x="502.5" y="370.5" width="4" height="18"/><rect x="514.5" y="346.5" width="4" height="23"/><rect x="521.5" y="339.5" width="4" height="8"/><rect x="527.5" y="307.5" width="4" height="33"/><rect x="533.5" y="264.5" width="4" height="42"/><rect x="545.5" y="253.5" width="4" height="12"/><rect x="551.5" y="237.5" width="4" height="15"/><rect x="563.5" y="245.5" width="4" height="7"/><rect x="575.5" y="217.5" width="4" height="25"/><rect x="581.5" y="215.5" width="4" height="1"/><rect x="587.5" y="183.5" width="4" height="33"/><rect x="594.5" y="174.5" width="4" height="9"/><rect x="600.5" y="156.5" width="4" height="17"/><rect x="618.5" y="203.5" width="4" height="5"/><rect x="624.5" y="190.5" width="4" height="11"/><rect x="636.5" y="186.5" width="4" height="10"/><rect x="642.5" y="132.5" width="4" height="53"/><rect x="666.5" y="206.5" width="4" height="12"/><rect x="685.5" y="321.5" width="4" height="8"/><rect x="691.5" y="258.5" width="4" height="22"/><rect x="709.5" y="309.5" width="4" height="4"/><rect x="715.5" y="235.5" width="4" height="72"/><rect x="727.5" y="236.5" width="4" height="10"/><rect x="733.5" y="227.5" width="4" height="7"/><rect x="739.5" y="210.5" width="4" height="16"/><rect x="764.5" y="277.5" width="4" height="28"/><rect x="776.5" y="280.5" width="4" height="28"/><rect x="800.5" y="327.5" width="4" height="27"/><rect x="837.5" y="415.5" width="4" height="31"/><rect x="843.5" y="395.5" width="4" height="23"/><rect x="867.5" y="437.5" width="4" height="55"/><rect x="873.5" y="412.5" width="4" height="30"/><rect x="879.5" y="407.5" width="4" height="4"/><rect x="910.5" y="429.5" width="4" height="25"/><rect x="916.5" y="409.5" width="4" height="19"/><rect x="952.5" y="551.5" width="4" height="2"/><rect x="958.5" y="522.5" width="4" height="25"/><rect x="964.5" y="519.5" width="4" height="4"/><rect x="977.5" y="546.5" width="4" height="17"/><rect x="983.5" y="515.5" width="4" height="31"/><rect x="989.5" y="512.5" width="4" height="2"/><rect x="995.5" y="493.5" width="4" height="12"/><rect x="1001.5" y="471.5" width="4" height="21"/><rect x="1013.5" y="474.5" width="4" height="4"/></g>
<line x1="0" y1="480.5" x2="1099" y2="480.5" stroke="#b22833" stroke-width="1" stroke-dasharray="1 2"/>
<g stroke="#2962ff" stroke-width="1.2" fill="none">
<line x1="595.3" y1="54.6" x2="1099" y2="543.6"/>
<line x1="522.2" y1="203.8" x2="1099" y2="685"/>
</g>
<g fill="none" stroke-linejoin="round" stroke-linecap="round">
<path d="M0.0 791.3C1.3 792.6 5.0 796.0 8.0 798.8C11.0 801.5 14.4 805.5 18.0 808.0C21.7 810.6 26.0 812.5 30.0 814.1C34.0 815.8 37.9 816.6 41.9 817.9C45.9 819.1 50.0 820.8 54.1 821.8C58.2 822.8 62.2 823.4 66.3 824.0C70.4 824.5 75.7 825.0 78.8 825.3C81.9 825.6 82.8 826.0 84.9 825.8C86.9 825.6 89.0 824.6 91.0 824.0C93.0 823.3 93.8 822.7 96.8 821.8C99.8 820.9 105.0 819.1 109.0 818.6C113.0 818.2 118.0 819.0 121.0 819.2C123.9 819.4 123.7 820.1 126.8 820.0C129.9 819.9 135.6 819.1 139.8 818.6C143.9 818.2 147.7 817.7 151.7 817.3C155.7 817.0 160.9 816.6 163.9 816.5C167.0 816.4 167.0 816.2 170.0 816.8C173.0 817.4 178.0 819.2 182.0 820.0C185.9 820.7 190.9 821.1 193.9 821.3C196.9 821.5 197.0 821.6 200.0 821.0C203.0 820.5 208.8 818.9 211.9 818.1C215.1 817.4 215.7 816.7 218.8 816.5C222.0 816.4 227.8 817.1 230.8 817.3C233.8 817.5 233.8 817.2 236.9 817.6C239.9 817.9 245.0 819.5 249.1 819.4C253.1 819.4 257.0 818.0 261.0 817.3C265.0 816.6 269.2 815.9 273.2 815.2C277.2 814.5 280.7 814.0 285.1 813.3C289.6 812.6 296.6 811.6 300.0 811.0C303.4 810.3 302.7 810.6 305.3 809.4C308.0 808.1 312.2 805.3 315.9 803.3C319.7 801.3 323.9 799.2 327.9 797.4C331.8 795.7 335.8 794.3 339.8 792.7C343.8 791.0 347.7 789.5 351.7 787.6C355.7 785.8 359.8 783.3 363.9 781.5C368.1 779.7 372.5 778.4 376.7 776.7C380.8 775.1 385.9 772.7 388.9 771.4C391.9 770.2 392.7 769.8 394.7 769.3C396.7 768.9 398.8 769.2 400.8 768.8C402.8 768.3 404.9 767.5 406.9 766.7C408.9 765.8 410.0 764.9 413.0 763.7C416.0 762.5 422.0 760.7 424.9 759.5C427.9 758.3 428.8 757.2 430.8 756.3C432.8 755.5 434.8 754.9 436.9 754.5C438.9 754.0 441.0 753.8 443.2 753.7C445.5 753.5 448.2 753.3 450.4 753.4C452.6 753.5 453.5 753.8 456.5 754.5C459.5 755.1 464.2 756.3 468.2 757.4C472.1 758.4 477.1 760.0 480.1 760.8C483.1 761.7 483.2 761.3 486.2 762.4C489.2 763.6 494.1 766.1 498.1 767.7C502.2 769.4 506.3 771.0 510.3 772.2C514.4 773.5 519.3 774.6 522.3 775.1C525.3 775.7 526.3 775.7 528.4 775.7C530.5 775.6 532.7 775.3 534.7 774.9C536.8 774.5 537.6 774.5 540.6 773.3C543.6 772.1 548.7 769.2 552.8 767.5C556.9 765.7 562.2 764.1 565.3 762.9C568.3 761.8 568.1 762.1 571.1 760.3C574.1 758.4 579.3 754.9 583.3 751.8C587.3 748.7 592.4 743.8 595.2 741.7C598.0 739.6 598.1 740.1 600.0 739.1C601.9 738.1 604.3 736.5 606.6 735.6C609.0 734.7 610.8 734.2 614.1 733.8C617.3 733.3 622.0 733.1 626.0 733.0C630.0 732.8 634.2 733.2 638.2 733.0C642.2 732.7 647.1 731.6 650.1 731.4C653.1 731.2 653.2 731.1 656.2 731.9C659.2 732.7 665.2 734.9 668.2 736.4C671.2 737.9 671.2 737.8 674.3 740.9C677.4 744.0 682.6 751.2 686.7 755.0C690.8 758.7 694.9 760.6 698.9 763.5C703.0 766.3 706.9 769.8 710.9 772.2C714.9 774.7 718.8 776.3 722.8 778.3C726.8 780.4 731.0 783.1 735.0 784.7C739.0 786.3 743.9 787.3 746.9 788.1C750.0 788.9 750.9 789.1 753.1 789.5C755.2 789.9 757.8 790.4 759.9 790.5C762.1 790.6 763.8 790.1 765.8 790.0C767.8 789.9 768.9 789.6 771.9 790.0C774.9 790.4 779.8 791.6 783.8 792.4C787.8 793.2 792.0 793.7 796.0 794.8C800.0 795.9 805.0 797.9 808.0 799.0C811.0 800.2 812.0 800.6 814.1 801.7C816.1 802.8 817.0 803.1 820.2 805.6C823.3 808.2 829.8 814.7 832.9 817.1C836.0 819.4 836.0 818.6 839.0 819.7C842.0 820.8 846.9 821.8 850.9 823.4C854.9 825.0 859.2 828.0 862.9 829.3C866.5 830.5 870.0 830.8 873.0 831.1C876.0 831.5 877.6 831.0 881.0 831.4C884.3 831.8 889.9 832.9 892.9 833.5C895.9 834.1 895.9 834.9 899.0 834.8C902.1 834.8 908.6 833.8 911.7 833.2C914.9 832.7 915.8 832.0 917.8 831.6C919.9 831.3 920.9 831.1 923.9 831.4C927.0 831.6 932.1 832.8 936.1 833.2C940.2 833.7 944.1 833.3 948.1 834.0C952.0 834.8 956.0 836.5 960.0 837.7C964.0 839.0 968.8 840.7 971.9 841.5C975.1 842.3 975.9 842.3 979.1 842.5C982.3 842.7 987.1 842.5 991.0 842.5C995.0 842.6 999.0 843.0 1003.0 842.8C1007.0 842.6 1010.9 841.9 1014.9 841.2C1018.9 840.4 1024.9 838.8 1026.8 838.3" stroke="#9598a1" stroke-width="1.15"/>
<path d="M0.0 809.4L5.8 830.6L11.9 846.5L18.0 843.3L23.9 827.9L30.0 814.7L35.8 818.6L41.9 824.7L48.0 831.1L54.1 824.0L59.9 827.4L66.8 814.9L72.9 818.9L78.8 819.4L84.9 817.6L91.0 808.0L96.8 805.4L102.9 818.6L109.0 812.0L114.9 811.2L121.0 828.7L126.8 838.5L132.9 823.2L139.8 813.3L145.6 813.1L151.7 815.5L157.8 809.6L163.9 817.6L170.0 821.0L175.9 835.4L182.0 823.7L187.8 826.6L193.9 815.5L200.0 809.4L205.8 810.2L211.9 813.3L218.8 804.6L224.9 819.7L230.8 820.0L236.9 820.0L243.0 827.9L249.1 820.5L255.2 816.3L261.0 812.3L267.1 814.1L273.2 808.6L279.0 803.3L285.1 802.5L291.8 791.1L297.6 794.0L300.0 790.8L304.0 784.2L310.1 777.5L315.9 770.1L322.0 784.2L327.9 791.3L334.0 781.5L339.8 784.2L345.9 782.6L351.7 776.2L357.8 763.7L363.9 761.6L370.6 764.5L376.7 759.5L382.8 754.5L388.9 748.4L394.7 746.2L400.8 766.1L406.9 755.0L413.0 750.2L419.1 751.3L424.9 749.7L430.8 742.3L436.9 753.4L443.2 752.6L450.4 758.2L456.5 770.1L462.3 782.6L468.2 777.5L474.3 769.3L480.1 778.3L486.2 783.4L492.3 790.8L498.1 788.9L504.2 781.2L510.3 781.2L516.2 772.2L522.3 769.6L528.4 757.6L534.7 743.8L540.6 744.4L546.7 740.4L552.8 735.4L559.2 742.8L565.3 740.4L571.1 739.9L577.2 731.6L583.3 730.6L589.1 720.8L595.2 718.1L602.1 713.1L608.0 728.5L614.1 743.1L619.9 741.2L626.0 736.9L632.1 741.2L638.2 737.2L644.0 720.2L650.1 738.5L656.2 748.4L662.1 765.6L668.2 761.1L674.3 796.9L680.9 809.4L686.7 808.0L692.8 785.8L698.9 788.7L705.0 805.1L710.9 803.5L717.0 779.7L722.8 783.6L728.9 780.2L735.0 777.3L740.8 772.2L746.9 777.8L753.1 790.8L759.9 806.4L765.8 797.4L771.9 807.5L778.0 798.2L783.8 812.0L789.9 818.6L796.0 821.0L801.9 811.8L808.0 820.0L814.1 819.7L820.2 838.8L826.8 845.7L832.9 845.7L839.0 834.6L844.8 826.9L850.9 828.5L856.8 836.7L862.9 853.1L869.0 833.5L875.7 824.2L881.0 823.4L887.1 827.9L892.9 830.3L899.0 836.2L905.6 836.7L911.7 826.9L917.8 819.7L923.9 830.6L930.0 836.9L936.1 842.3L942.2 848.1L948.1 860.0L954.2 857.4L960.0 846.5L965.8 845.4L971.9 857.4L979.1 849.2L984.9 837.7L991.0 836.7L997.1 828.5L1003.0 821.3L1009.1 823.4L1014.9 822.4L1021.0 825.3L1026.8 823.7" stroke="#1e3fa8" stroke-width="1.15"/>
</g>
<g fill="#eceef4">
<rect x="0" y="26" width="1164" height="2"/>
<rect x="0" y="694" width="1162" height="1" fill="#e0e3eb"/>
<rect x="0" y="903" width="1164" height="2"/>
<rect x="1162" y="26" width="2" height="879"/>
</g>
</svg>
<div class="t " style="left:1107px;top:82.8px">96.00</div>
<div class="t " style="left:1107px;top:117px">94.00</div>
<div class="t " style="left:1107px;top:152px">92.00</div>
<div class="t " style="left:1107px;top:186.9px">90.00</div>
<div class="t " style="left:1107px;top:221.6px">88.00</div>
<div class="t " style="left:1107px;top:256.5px">86.00</div>
<div class="t " style="left:1107px;top:291px">84.00</div>
<div class="t " style="left:1107px;top:325.5px">82.00</div>
<div class="t " style="left:1107px;top:361px">80.00</div>
<div class="t " style="left:1107px;top:603.6px">66.00</div>
<div class="t " style="left:1107px;top:638px">64.00</div>
<div class="t " style="left:1107px;top:673.7px">62.00</div>
<div class="t " style="left:1107px;top:694.6px">70.00</div>
<div class="t " style="left:1107px;top:743.7px">60.00</div>
<div class="t " style="left:1107px;top:793px">50.00</div>
<div class="t " style="left:1107px;top:841px">40.00</div>
<div class="t w" style="left:1107px;top:799.7px">46.13</div>
<div class="t w" style="left:1107px;top:852.7px">37.90</div>
<div class="lab" style="left:1099px;top:100px;width:43px;height:17px;line-height:17px;background:#e3effd;color:#131722"><span style="top:1px">94.99</span></div>
<div class="lab n" style="left:1052px;top:100px;width:46px;height:17px;line-height:17px;background:#e3effd;color:#131722;padding-left:5px"><span style="top:1px">Yüksek</span></div>
<div class="lab" style="left:1099px;top:336px;width:43px;height:17px;line-height:17px;background:#9598a1;color:#131722"><span style="top:1px">81.42</span></div>
<div class="lab b" style="left:1099px;top:387px;width:43px;height:17px;line-height:17px;background:#000;color:#fff"><span style="top:1px">77.77</span></div>
<div class="lab" style="left:1099px;top:404px;width:43px;height:17px;line-height:17px;background:#ff9800;color:#131722"><span style="top:1px">77.31</span></div>
<div class="lab b" style="left:1099px;top:421px;width:43px;height:17px;line-height:17px;background:#000;color:#fff"><span style="top:1px">75.00</span></div>
<div class="lab b" style="left:1099px;top:438px;width:43px;height:17px;line-height:17px;background:#000;color:#fff"><span style="top:1px">73.85</span></div>
<div class="lab b" style="left:1099px;top:455px;width:43px;height:17px;line-height:17px;background:#4caf50;color:#fff"><span style="top:1px">73.75</span></div>
<div class="lab b big" style="left:1099px;top:472px;width:60px;height:31px;background:#b22833;color:#fff"><span style="top:2px">73.61</span><br><span style="top:2px;color:#f3d0d3;letter-spacing:-0.15px">13:58:35</span></div>
<div class="lab b" style="left:1099px;top:503px;width:43px;height:17px;line-height:17px;background:#b22833;color:#fff"><span style="top:1px">72.91</span></div>
<div class="lab b" style="left:1099px;top:520px;width:43px;height:17px;line-height:17px;background:#000;color:#fff"><span style="top:1px">72.26</span></div>
<div class="lab b" style="left:1099px;top:537px;width:43px;height:17px;line-height:17px;background:#000;color:#fff"><span style="top:1px">71.28</span></div>
<div class="lab b" style="left:1099px;top:554px;width:43px;height:17px;line-height:17px;background:#000;color:#fff"><span style="top:1px">69.58</span></div>
<div class="lab b" style="left:1099px;top:571px;width:43px;height:17px;line-height:17px;background:#000;color:#fff"><span style="top:1px">68.60</span></div>
<div class="lab" style="left:1099px;top:647px;width:43px;height:15px;line-height:15px;background:#e3effd;color:#131722"><span style="top:1px">63.61</span></div>
<div class="lab n" style="left:1057px;top:647px;width:41px;height:15px;line-height:15px;background:#e3effd;color:#131722;padding-left:5px"><span style="top:1px">Düşük</span></div>
<div class="lab b" style="left:1099px;top:816px;width:43px;height:17px;line-height:17px;background:#1e3fa8;color:#fff"><span style="top:1px">45.31</span></div>
<div class="lab" style="left:1099px;top:833px;width:43px;height:17px;line-height:17px;background:#9598a1;color:#131722"><span style="top:1px">42.33</span></div>
<div class="usd"><span>USD</span></div>
<div class="t tc" style="left:-26px;top:882px">ay</div>
<div class="t tc" style="left:103px;top:882px">Haz</div>
<div class="t tc" style="left:236.5px;top:882px">Tem</div>
<div class="t tc" style="left:365px;top:882px">Ağu</div>
<div class="t tc" style="left:504px;top:882px">Eyl</div>
<div class="t tc" style="left:631.5px;top:882px">Eki</div>
<div class="t tc" style="left:766px;top:882px">Kas</div>
<div class="t tc" style="left:899.5px;top:882px">Ara</div>
<div class="t tc" style="left:1021.5px;top:882px;font-weight:bold">2024</div>
</body></html>
